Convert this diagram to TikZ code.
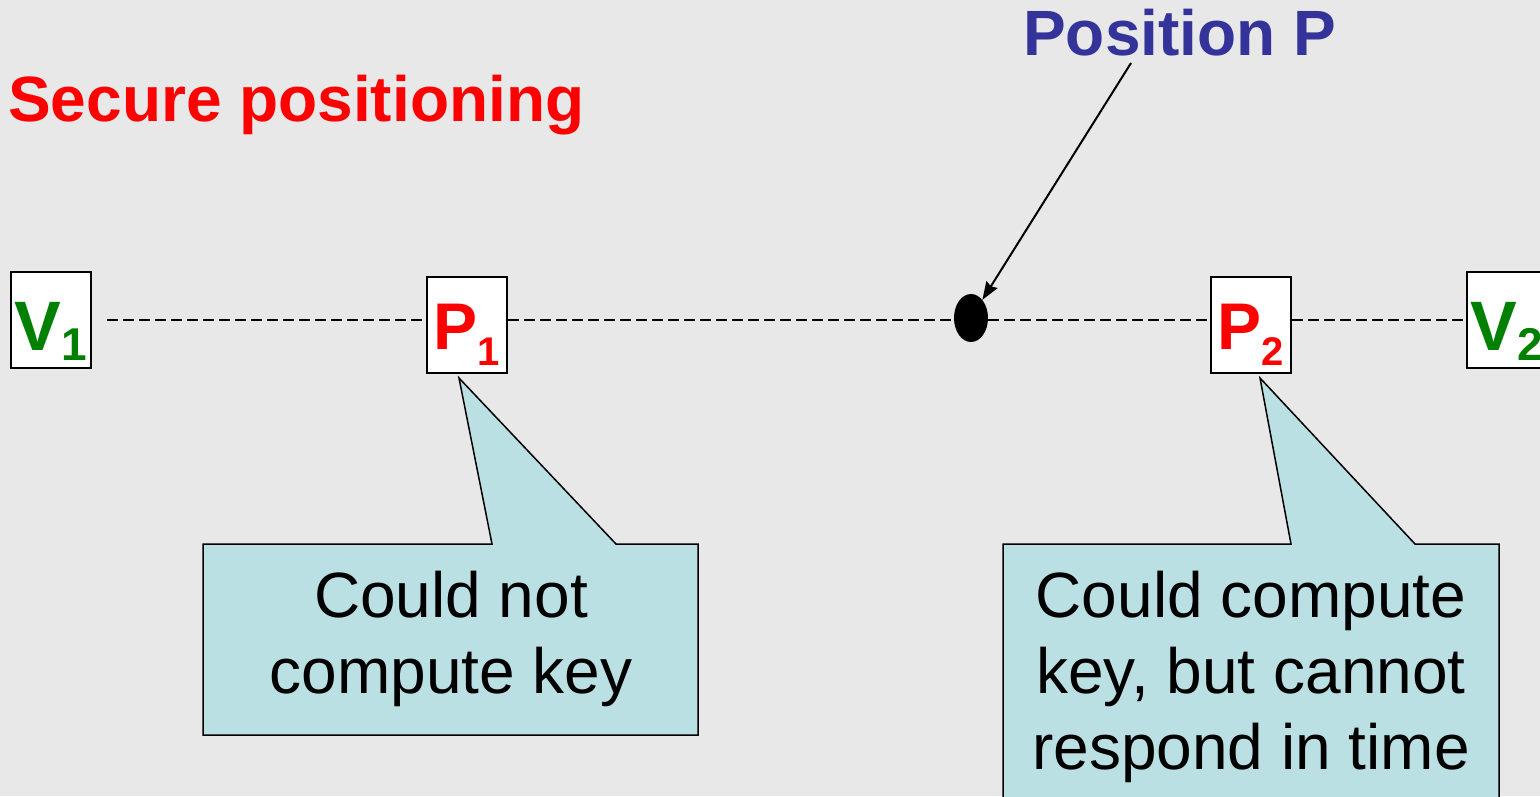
\documentclass[tikz,border=0pt]{standalone}
\usepackage{fontspec}
\setmainfont{Liberation Sans}
\usetikzlibrary{shapes.geometric,arrows.meta}
\definecolor{bgc}{RGB}{232,232,232}
\definecolor{tred}{RGB}{255,0,0}
\definecolor{tgreen}{RGB}{0,128,0}
\definecolor{tblue}{RGB}{51,51,153}
\definecolor{callfill}{RGB}{187,224,227}
\tikzset{
  vbox/.style={draw=black, line width=1.8pt, fill=white, minimum width=80pt, minimum height=96pt,
    inner sep=0pt, text height=60pt, text depth=0pt, text=tgreen,
    font=\fontsize{70}{70}\selectfont\bfseries},
  pbox/.style={draw=black, line width=1.8pt, fill=white, minimum width=80pt, minimum height=96pt,
    inner sep=0pt, text height=48pt, text depth=0pt, text=tred,
    font=\fontsize{66}{66}\selectfont\bfseries},
  dashline/.style={line width=2.2pt, dash pattern=on 11pt off 5pt},
  callout/.style={draw=black, line width=1.5pt, fill=callfill, line join=miter},
  calltext/.style={align=center, inner sep=0pt, font=\fontsize{64}{76}\selectfont},
  title/.style={anchor=base west, inner sep=0pt, font=\fontsize{64}{64}\selectfont\bfseries},
}
\newcommand{\vsub}[1]{\raisebox{-10pt}{\fontsize{46}{46}\selectfont #1}}
\newcommand{\psub}[1]{\raisebox{-16pt}{\fontsize{40}{40}\selectfont #1}}
\begin{document}
\begin{tikzpicture}[x=1pt,y=-1pt]
\useasboundingbox (0,0) rectangle (1540,796);
\fill[bgc] (0,0) rectangle (1540,796);

% titles
\node[title, text=tred] (title) at (8,121) {Secure positioning};
\node[title, text=tblue] (pos) at (1023,55) {Position P};

% boxes
\node[vbox] (v1) at (51,320) {V\vsub{1}};
\node[pbox] (p1) at (467,325) {P\psub{1}};
\node[pbox] (p2) at (1251,325) {P\psub{2}};
\node[vbox] (v2) at (1507,320) {V\vsub{2}};

% dashed baseline
\draw[dashline, shorten <=15pt] (v1.east) -- (v1.east -| p1.west);
\draw[dashline] (v1.east -| p1.east) -- (v1.east -| p2.west);
\draw[dashline] (v1.east -| p2.east) -- (v2.west);

% position dot
\node[ellipse, fill=black, minimum width=34pt, minimum height=48pt, inner sep=0pt] (dot) at (971,318) {};

% arrow from label
\coordinate (parrow) at (1131,63);
\draw[line width=2pt, -{Stealth[length=18pt,width=13pt,inset=2pt]}] (parrow) -- (dot);

% callout 1
\draw[callout] (203,544) -- (492,544) -- (459,378) -- (616,544) -- (698,544)
  -- (698,735) -- (203,735) -- cycle;
\node[calltext] (c1) at (451,693) [anchor=base] {Could not\\compute key};

% callout 2
\draw[callout] (1003,544) -- (1291,544) -- (1260,378) -- (1415,544) -- (1499,544)
  -- (1499,830) -- (1003,830) -- cycle;
\node[calltext] (c2) at (1251,769) [anchor=base] {Could compute\\key, but cannot\\respond in time};
\end{tikzpicture}
\end{document}
